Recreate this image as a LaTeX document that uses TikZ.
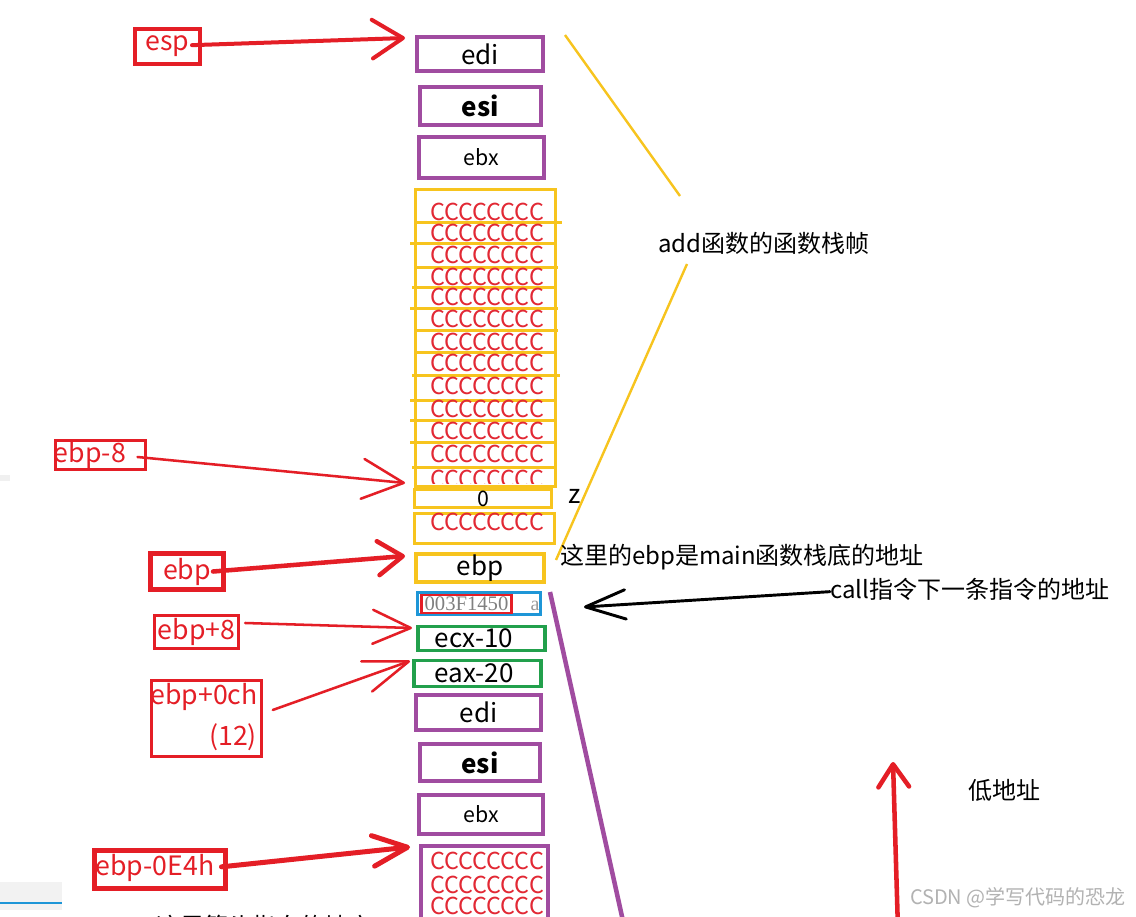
\documentclass[tikz,border=0pt]{standalone}
\usepackage{fontspec}
\setmainfont{Noto Sans CJK SC}
\newfontfamily\serifdigits{Liberation Serif}
\usetikzlibrary{arrows.meta}
\definecolor{pur}{RGB}{160,76,160}
\definecolor{yel}{RGB}{247,196,30}
\definecolor{grn}{RGB}{34,160,76}
\definecolor{blu}{RGB}{30,150,215}
\definecolor{rd}{RGB}{228,30,38}
\definecolor{cred}{RGB}{226,40,52}
\newcommand\freg{\fontsize{19.5}{22}\selectfont}
\newcommand\fsmall{\fontsize{16}{18}\selectfont}
\newcommand\flab{\fontsize{20}{22}\selectfont}
\newcommand\fcc{\fontsize{17.5}{20}\selectfont}
\newcommand\fcjk{\fontsize{18}{20}\selectfont}
\begin{document}
\begin{tikzpicture}[x=0.75pt,y=-0.75pt,
  sz/.style 2 args={minimum width=#1*0.75pt, minimum height=#2*0.75pt},
  box/.style={rectangle, inner sep=0pt, outer sep=0pt},
  pbox/.style={box, draw=pur, line width=3.4pt},
  ybox/.style={box, draw=yel, line width=2.25pt},
  gbox/.style={box, draw=grn, line width=2.6pt},
  rbox/.style={box, draw=rd, text=rd, font=\flab},
  txt/.style={inner sep=0pt, outer sep=0pt},
  ctext/.style={txt, text=cred, font=\fcc},
  rtext/.style={txt, text=rd, font=\flab},
  ylines/.style={yel, line width=2.25pt}
]
\useasboundingbox (0,0) rectangle (1136,917);
\clip (0,0) rectangle (1136,917);
\fill[white] (0,0) rectangle (1136,917);

% screenshot artifacts
\fill[gray!12] (0,475) rectangle (10,481);
\fill[gray!10] (0,882) rectangle (62,910);
\draw[blu, line width=2.2pt] (0,903) -- (62,903);

% top registers
\node[pbox, sz={126}{34}, font=\freg] (edi1) at (480,54) {edi};
\node[pbox, sz={121}{38}, font=\freg\bfseries] (esi1) at (480.5,106) {esi};
\node[pbox, sz={125}{41}, font=\fsmall] (ebx1) at (481.5,157.5) {ebx};

% CCCC stack
\node[ybox, sz={140}{297}] (cstack) at (485.5,338) {};
\foreach \y/\a/\b in {222/414/562, 243/410/557, 267/414/558, 287/412/557, 308/410/558, 330/414/558, 352/414/557, 375/412/560, 400/410/557, 420/410/557, 442/410/556, 467/412/554}
  \draw[ylines] (\a,\y) -- (\b,\y);
\foreach \y in {212,233,255,277,297,319,342,363,386,409,431,454}
  \node[ctext] (c\y) at (487,\y) {CCCCCCCC};
\begin{scope}
  \clip (414,466) rectangle (556,483);
  \node[ctext] (clast) at (487,479) {CCCCCCCC};
\end{scope}
\node[ybox, fill=white, sz={137}{18}, font=\fsmall] (zero) at (483,498.5) {0};
\node[ybox, sz={140}{30}] (c2) at (484.5,528.5) {};
\node[ctext] (c2t) at (487,522) {CCCCCCCC};
\node[txt, font=\freg] (zt) at (575,496) {z};

% ebp, return address, parameters
\node[box, draw=yel, line width=3.4pt, sz={128}{28}, font=\freg] (ebpb) at (480,568) {ebp};
\node[box, draw=blu, line width=2.25pt, sz={123}{22}] (ret) at (479,603.5) {};
\node[box, draw=rd, line width=1.9pt, sz={90}{18}, text=gray, font=\serifdigits\fontsize{15.5}{16}\selectfont] (retv) at (466.5,604) {003F1450};
\node[txt, text=gray!80, font=\serifdigits\fontsize{15}{16}\selectfont] (reta) at (535,606) {a};
\node[gbox, sz={127}{23.5}] (ecx) at (481.5,638.5) {};
\node[txt, font=\freg] (ecxt) at (474,638) {ecx-10};
\node[gbox, sz={127}{25.5}] (eax) at (477.5,673.5) {};
\node[txt, font=\freg] (eaxt) at (474,673) {eax-20};

% lower registers
\node[pbox, sz={125}{35}, font=\freg] (edi2) at (478.5,712.5) {edi};
\node[pbox, sz={120}{37}, font=\freg\bfseries] (esi2) at (480,762.5) {esi};
\node[pbox, sz={124}{39}, font=\fsmall] (ebx2) at (481,814.5) {ebx};
\node[pbox, sz={127}{84}] (cbox2) at (484.5,888) {};
\foreach \y in {861,885,906}
  \node[ctext] (d\y) at (487,\y) {CCCCCCCC};

% bracket lines
\draw[pur, line width=3.4pt] (550,592) -- (625,930);
\draw[yel, line width=1.8pt] (565,35) -- (680,196);
\draw[yel, line width=1.8pt] (687,264) -- (556,560);

% notes
\node[txt, anchor=west, font=\fcjk] (addl) at (658,243) {add函数的函数栈帧};
\node[txt, anchor=west, font=\fcjk] (mainl) at (560,557) {这里的ebp是main函数栈底的地址};
\node[txt, anchor=west, font=\fcjk] (callL) at (830,589) {call指令下一条指令的地址};
\node[txt, anchor=west, font=\fontsize{18}{20}\selectfont] (lowl) at (968,790) {低地址};
\node[txt, anchor=west, text=gray!60, font=\fontsize{15}{16}\selectfont] (wm) at (910,898) {CSDN @学写代码的恐龙};
\node[txt, anchor=west, font=\fcjk] (botl) at (156,926) {这里箭头指向的地方};

% red labels
\node[rbox, line width=3pt, sz={65}{35}] (espL) at (167.5,46.5) {esp};
\node[rbox, line width=2.25pt, sz={90}{29}] (ebp8L) at (100.5,455) {};
\node[rtext] (ebp8t) at (90,455) {ebp-8};
\node[rbox, line width=3.4pt, sz={73.5}{36.5}] (ebpL) at (187,571.5) {ebp};
\node[rbox, line width=2.25pt, sz={84}{33}] (ebp8pL) at (196.5,632) {ebp+8};
\node[rbox, line width=2.25pt, sz={110}{76}] (ebp0chL) at (206.5,718.5) {};
\node[rtext] (ebp0cht) at (204,697) {ebp+0ch};
\node[rtext] (ebp0chn) at (233,737) {(12)};
\node[rbox, line width=3.75pt, sz={131}{38}] (ebpE4L) at (160,869.5) {};
\node[rtext] (ebpE4t) at (155,868) {ebp-0E4h};

% arrow tips
\coordinate (tEsp) at (405,38);
\coordinate (tEbp8) at (405,483);
\coordinate (tEbp) at (405,556);
\coordinate (tEbp8p) at (412,628);
\coordinate (tEbp0ch) at (410,661);
\coordinate (tEbpE4) at (410,847);
\coordinate (tCall) at (584,607);
\coordinate (upB) at (898,930);
\coordinate (upT) at (893,762);

% arrows
\draw[rd, line width=3pt, line cap=round, -{Straight Barb[length=23pt,width=29pt,round]}] ([xshift=-6pt,yshift=1pt]espL.east) -- (tEsp);
\draw[rd, line width=1.9pt, line cap=round, -{Straight Barb[length=31pt,width=30pt,round]}] ([xshift=-6pt,yshift=-1.5pt]ebp8L.east) -- (tEbp8);
\draw[rd, line width=3.4pt, line cap=round, -{Straight Barb[length=18.5pt,width=25.5pt,round]}] ([xshift=-8pt]ebpL.east) -- (tEbp);
\draw[rd, line width=1.9pt, line cap=round, -{Straight Barb[length=28.5pt,width=25.5pt,round]}] ([xshift=5pt,yshift=6.75pt]ebp8pL.east) -- (tEbp8p);
\draw[rd, line width=1.9pt, line cap=round, -{Straight Barb[length=33.5pt,width=24pt,round]}] ([xshift=8.5pt,yshift=6.4pt]ebp0chL.east) -- (tEbp0ch);
\draw[rd, line width=3.75pt, line cap=round, -{Straight Barb[length=26pt,width=23pt,round]}] ([xshift=-3pt,yshift=2pt]ebpE4L.east) -- (tEbpE4);
\draw[black, line width=2.2pt, line cap=round, -{Straight Barb[length=30pt,width=22pt,round]}] ([yshift=-2pt]callL.west) -- (tCall);
\draw[rd, line width=3.4pt, -{Straight Barb[length=17pt,width=23pt,round]}] (upB) -- (upT);
\end{tikzpicture}
\end{document}
